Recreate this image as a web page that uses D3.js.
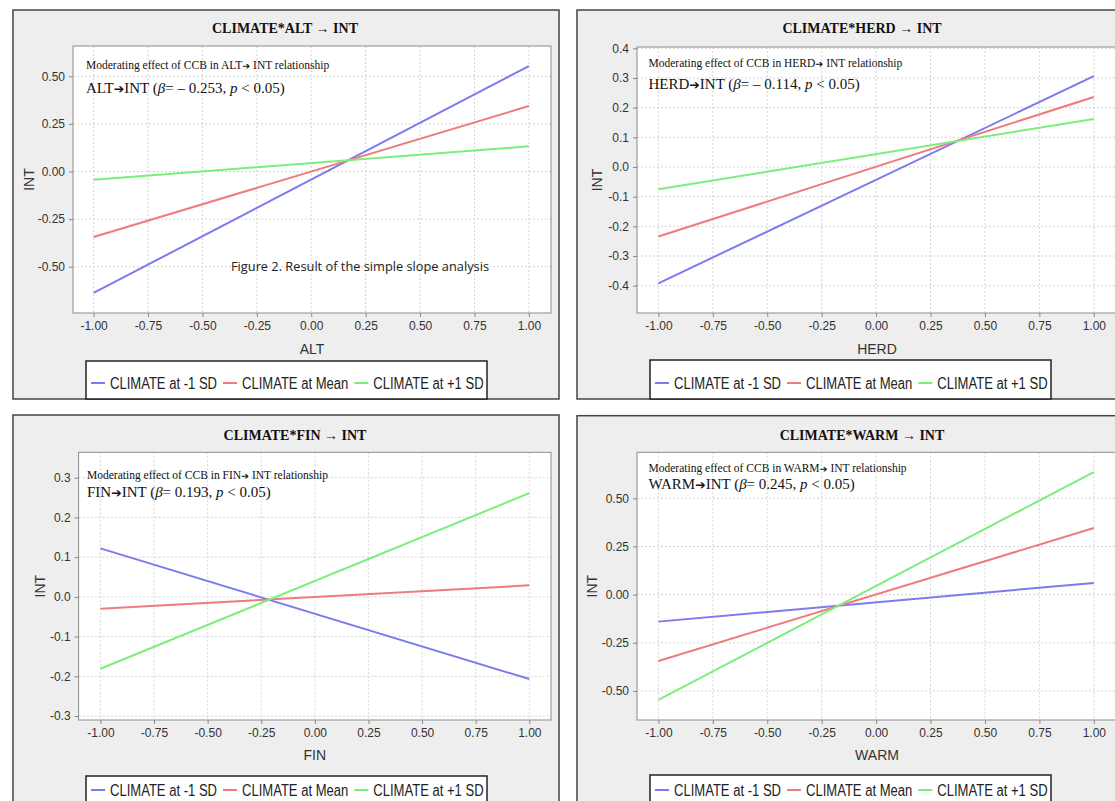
<!DOCTYPE html>
<html>
<head>
<meta charset="utf-8">
<script src="https://cdn.jsdelivr.net/npm/d3@7"></script>
<style>
  body { margin: 0; background: #fff; }
  svg { display: block; }
</style>
</head>
<body>
<div id="chart"></div>
<script>
// Shared values
const xValues = [-1, 1];
const xTicks = [-1, -0.75, -0.5, -0.25, 0, 0.25, 0.5, 0.75, 1];
const seriesNames = ["CLIMATE at -1 SD", "CLIMATE at Mean", "CLIMATE at +1 SD"];
const seriesColors = ["#7b7bef", "#ef7b7b", "#7bef7b"];

// ALT panel (INT at x = -1 and x = 1)
const altLow = [-0.638, 0.554];
const altMean = [-0.344, 0.344];
const altHigh = [-0.043, 0.132];
const altTicks = [-0.5, -0.25, 0, 0.25, 0.5];

// HERD panel
const herdLow = [-0.392, 0.306];
const herdMean = [-0.234, 0.236];
const herdHigh = [-0.075, 0.162];
const herdTicks = [-0.4, -0.3, -0.2, -0.1, 0, 0.1, 0.2, 0.3, 0.4];

// FIN panel
const finLow = [0.122, -0.207];
const finMean = [-0.03, 0.029];
const finHigh = [-0.181, 0.261];
const finTicks = [-0.3, -0.2, -0.1, 0, 0.1, 0.2, 0.3];

// WARM panel
const warmLow = [-0.14, 0.061];
const warmMean = [-0.344, 0.346];
const warmHigh = [-0.546, 0.636];
const warmTicks = [-0.5, -0.25, 0, 0.25, 0.5];

const panels = [
  {
    name: "ALT", beta: "= \u2013 0.253, ", series: [altLow, altMean, altHigh],
    yTicks: altTicks, fmt: ".2f",
    box: [13, 10, 559, 399], plot: [73, 46, 551, 313],
    xr: [93.6, 528.9], yd: [-0.5, 0.5], yr: [266.7, 76.3],
    titleX: 285, titleY: 33, xLabelY: 354, yLabelX: 29,
    legend: [86, 361, 487, 399], legendY: 22, note: [86, 69, 93]
  },
  {
    name: "HERD", beta: "= \u2013 0.114, ", series: [herdLow, herdMean, herdHigh],
    yTicks: herdTicks, fmt: ".1f",
    box: [577, 10, 1148, 399], plot: [637, 47, 1117, 313],
    xr: [658.4, 1093.8], yd: [-0.4, 0.4], yr: [285.7, 48.3],
    titleX: 862, titleY: 33, xLabelY: 354, yLabelX: 597,
    legend: [650, 360, 1051, 399], legendY: 23, note: [648.5, 67, 89]
  },
  {
    name: "FIN", beta: "= 0.193, ", series: [finLow, finMean, finHigh],
    yTicks: finTicks, fmt: ".1f",
    box: [13, 415, 559, 815], plot: [78.6, 452.3, 551, 720],
    xr: [100.4, 529.3], yd: [-0.3, 0.3], yr: [716, 477.7],
    titleX: 295, titleY: 440, xLabelY: 760, yLabelX: 40,
    legend: [86, 776, 487, 815], legendY: 14, note: [87, 479, 497]
  },
  {
    name: "WARM", beta: "= 0.245, ", series: [warmLow, warmMean, warmHigh],
    yTicks: warmTicks, fmt: ".2f",
    box: [577, 415.7, 1148, 815], plot: [637, 452.3, 1117, 720],
    xr: [658.4, 1093.8], yd: [-0.5, 0.5], yr: [691, 498.3],
    titleX: 862, titleY: 440, xLabelY: 760, yLabelX: 592,
    legend: [650, 775, 1051, 815], legendY: 15, note: [648.5, 472, 489]
  }
];

const svg = d3
  .select("#chart")
  .append("svg")
  .attr("width", 1115)
  .attr("height", 801);

panels.forEach((p) => drawPanel(svg, p));

// Caption sitting inside the ALT panel
svg
  .append("text")
  .attr("x", 231)
  .attr("y", 271)
  .attr("textLength", 258)
  .attr("lengthAdjust", "spacingAndGlyphs")
  .style("font-family", "'Open Sans', sans-serif")
  .style("font-size", "12.5px")
  .style("fill", "#222")
  .text("Figure 2. Result of the simple slope analysis");

function drawPanel(svg, p) {
  const g = svg.append("g");
  const [bx0, by0, bx1, by1] = p.box;
  const [px0, py0, px1, py1] = p.plot;
  const serif = "'Liberation Serif', 'Times New Roman', serif";
  const sans = "'Liberation Sans', Arial, sans-serif";

  // Outer panel
  g.append("rect")
    .attr("x", bx0)
    .attr("y", by0)
    .attr("width", bx1 - bx0)
    .attr("height", by1 - by0)
    .attr("fill", "#eeeeee")
    .attr("stroke", "#444")
    .attr("stroke-width", 1.5);

  // Title
  g.append("text")
    .attr("x", p.titleX)
    .attr("y", p.titleY)
    .attr("text-anchor", "middle")
    .style("font-family", serif)
    .style("font-weight", "bold")
    .style("font-size", "14px")
    .style("fill", "#111")
    .text(`CLIMATE*${p.name} \u2192 INT`);

  // Scales
  const x = d3.scaleLinear().domain([-1, 1]).range(p.xr);
  const y = d3.scaleLinear().domain(p.yd).range(p.yr);

  // Plot area
  g.append("rect")
    .attr("x", px0)
    .attr("y", py0)
    .attr("width", px1 - px0)
    .attr("height", py1 - py0)
    .attr("fill", "#fff");

  // Grid lines
  g.append("g")
    .selectAll("line")
    .data(xTicks)
    .enter()
    .append("line")
    .attr("x1", (d) => x(d))
    .attr("x2", (d) => x(d))
    .attr("y1", py0)
    .attr("y2", py1)
    .attr("stroke", "#d4d4d4")
    .attr("stroke-dasharray", "2,2");

  g.append("g")
    .selectAll("line")
    .data(p.yTicks)
    .enter()
    .append("line")
    .attr("x1", px0)
    .attr("x2", px1)
    .attr("y1", (d) => y(d))
    .attr("y2", (d) => y(d))
    .attr("stroke", "#d4d4d4")
    .attr("stroke-dasharray", "2,2");

  g.append("rect")
    .attr("x", px0)
    .attr("y", py0)
    .attr("width", px1 - px0)
    .attr("height", py1 - py0)
    .attr("fill", "none")
    .attr("stroke", "#8c8c8c");

  // Axes
  const fmtX = (d) => d3.format(".2f")(d).replace("\u2212", "-");
  const fmtY = (d) => d3.format(p.fmt)(d).replace("\u2212", "-");

  const xAxis = g
    .append("g")
    .attr("transform", `translate(0,${py1})`)
    .call(d3.axisBottom(x).tickValues(xTicks).tickFormat(fmtX).tickSizeInner(4).tickSizeOuter(0).tickPadding(4));

  const yAxis = g
    .append("g")
    .attr("transform", `translate(${px0},0)`)
    .call(d3.axisLeft(y).tickValues(p.yTicks).tickFormat(fmtY).tickSizeInner(4).tickSizeOuter(0).tickPadding(4));

  [xAxis, yAxis].forEach((a) => {
    a.select(".domain").remove();
    a.selectAll("line").attr("stroke", "#888");
    a.selectAll("text")
      .style("font-family", sans)
      .style("font-size", "12px")
      .style("fill", "#333");
  });

  // Axis titles
  g.append("text")
    .attr("x", (px0 + px1) / 2)
    .attr("y", p.xLabelY)
    .attr("text-anchor", "middle")
    .style("font-family", sans)
    .style("font-size", "14px")
    .style("fill", "#333")
    .text(p.name);

  g.append("text")
    .attr("transform", `translate(${p.yLabelX},${(py0 + py1) / 2}) rotate(-90)`)
    .attr("dy", "0.35em")
    .attr("text-anchor", "middle")
    .style("font-family", sans)
    .style("font-size", "14px")
    .style("fill", "#333")
    .text("INT");

  // Slope lines
  const line = d3
    .line()
    .x((d, i) => x(xValues[i]))
    .y((d) => y(d));

  g.append("g")
    .selectAll("path")
    .data(p.series)
    .enter()
    .append("path")
    .attr("d", line)
    .attr("fill", "none")
    .attr("stroke", (d, i) => seriesColors[i])
    .attr("stroke-width", 2);

  // Annotation
  const [nx, ny1, ny2] = p.note;
  const arrowFont = "'DejaVu Sans', sans-serif";
  const note1 = g
    .append("text")
    .attr("x", nx)
    .attr("y", ny1)
    .style("font-family", serif)
    .style("font-size", "11.5px")
    .style("fill", "#111");
  note1.append("tspan").text(`Moderating effect of CCB in ${p.name}`);
  note1.append("tspan").style("font-family", arrowFont).style("font-size", "9.5px").text("\u2794");
  note1.append("tspan").text(" INT relationship");

  const note = g
    .append("text")
    .attr("x", nx)
    .attr("y", ny2)
    .style("font-family", serif)
    .style("font-size", "15px")
    .style("fill", "#111");
  note.append("tspan").text(`${p.name}`);
  note.append("tspan").style("font-family", arrowFont).style("font-size", "12.5px").text("\u2794");
  note.append("tspan").text("INT (");
  note.append("tspan").style("font-style", "italic").text("\u03b2");
  note.append("tspan").text(p.beta);
  note.append("tspan").style("font-style", "italic").text("p");
  note.append("tspan").text(" < 0.05)");

  // Legend
  const [lx0, ly0, lx1, ly1] = p.legend;
  g.append("rect")
    .attr("x", lx0)
    .attr("y", ly0)
    .attr("width", lx1 - lx0)
    .attr("height", ly1 - ly0)
    .attr("fill", "#fff")
    .attr("stroke", "#222")
    .attr("stroke-width", 1.5);

  const ly = ly0 + p.legendY;
  let cx = lx0 + 5;
  seriesNames.forEach((name, i) => {
    g.append("line")
      .attr("x1", cx)
      .attr("x2", cx + 14)
      .attr("y1", ly)
      .attr("y2", ly)
      .attr("stroke", seriesColors[i])
      .attr("stroke-width", 2);
    const t = g
      .append("text")
      .attr("x", cx + 19)
      .attr("y", ly)
      .attr("dy", "0.36em")
      .style("font-family", sans)
      .style("font-size", "16px")
      .style("fill", "#222")
      .text(name);
    // squeeze the text to the narrow face used in the original
    const w = t.node().getComputedTextLength() * 0.815;
    t.attr("textLength", w).attr("lengthAdjust", "spacingAndGlyphs");
    cx += 19 + w + 6;
  });
}
</script>
</body>
</html>
